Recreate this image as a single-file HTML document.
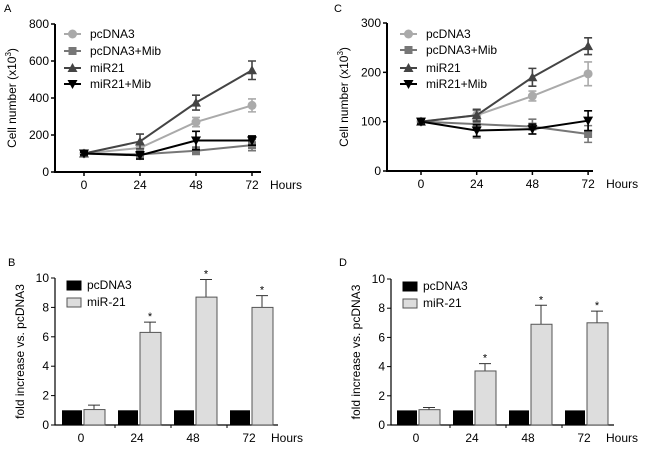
<!DOCTYPE html>
<html><head><meta charset="utf-8"><style>
body{margin:0;background:#fff}
svg{display:block;font-family:"Liberation Sans",Arial,sans-serif}
</style></head><body>
<svg id="fig" width="650" height="449" viewBox="0 0 650 449"></svg>
<script>
const hours=["0","24","48","72"];
const seriesNames=["pcDNA3","pcDNA3+Mib","miR21","miR21+Mib"];
const A_pc=[100,130,270,360], A_pcE=[8,20,25,35];
const A_pcm=[100,95,115,145], A_pcmE=[8,15,20,30];
const A_mi=[100,165,375,550], A_miE=[8,40,40,50];
const A_mim=[100,90,170,170], A_mimE=[8,20,50,25];
const A_ticks=[0,200,400,600,800];
const C_pc=[100,113,152,197], C_pcE=[5,10,10,24];
const C_pcm=[100,95,90,75], C_pcmE=[5,28,15,17];
const C_mi=[100,113,190,253], C_miE=[5,12,18,17];
const C_mim=[100,82,85,102], C_mimE=[5,12,10,20];
const C_ticks=[0,100,200,300];
const barCtrl=[1,1,1,1];
const B_mir=[1.05,6.3,8.7,8.0], B_err=[0.3,0.7,1.2,0.8];
const D_mir=[1.05,3.7,6.9,7.0], D_err=[0.15,0.5,1.3,0.8];
const barTicks=[0,2,4,6,8,10];
const barLegend=["pcDNA3","miR-21"];

const NS="http://www.w3.org/2000/svg";
const svg=document.getElementById('fig');
const FS=12;
function el(tag,attrs,parent,text){const e=document.createElementNS(NS,tag);for(const k in attrs)e.setAttribute(k,attrs[k]);if(text!==undefined)e.textContent=text;(parent||svg).appendChild(e);return e;}

function marker(g,shape,x,y,color){
  let m;
  if(shape==='circle')m=el('circle',{cx:x,cy:y,r:4.5,fill:color},g);
  else if(shape==='square')m=el('rect',{x:x-4,y:y-4,width:8,height:8,fill:color},g);
  else if(shape==='up')m=el('polygon',{points:`${x},${y-5} ${x+5},${y+4} ${x-5},${y+4}`,fill:color},g);
  else m=el('polygon',{points:`${x},${y+5} ${x+5},${y-4} ${x-5},${y-4}`,fill:color},g);
  return m;
}

function lineChart(o){
  const g=el('g',{});
  
  
  const t=el('text',{x:o.lx,y:o.ly,'font-size':11},g,o.letter);
  
  const ys=v=>o.y0-(v/o.ymax)*(o.y0-o.y1);
  const xs=i=>o.x0+i*o.dx;
  const ax=el('path',{d:`M${o.ax} ${o.y1}V${o.y0}H${o.ax+206}`,stroke:'#000','stroke-width':2,fill:'none'},g);
  
  o.ticks.forEach(v=>{
    el('line',{x1:o.ax-4,x2:o.ax,y1:ys(v),y2:ys(v),stroke:'#000','stroke-width':1.5},g);
    const tl=el('text',{x:o.ax-6,y:ys(v)+4,'font-size':FS,'text-anchor':'end'},g,v);
    
  });
  hours.forEach((h,i)=>{
    el('line',{x1:xs(i),x2:xs(i),y1:o.y0,y2:o.y0+4,stroke:'#000','stroke-width':1.5},g);
    const tl=el('text',{x:xs(i),y:o.y0+17,'font-size':FS,'text-anchor':'middle'},g,h);
    
  });
  const hl=el('text',{x:xs(3)+18,y:o.y0+17,'font-size':FS},g,'Hours');
  
  const yt=el('text',{transform:`translate(${o.ax-39},${(o.y0+o.y1)/2}) rotate(-90)`,'font-size':FS,'text-anchor':'middle'},g);
  
  el('tspan',{},yt,'Cell number (x10');el('tspan',{'font-size':8,dy:-5},yt,'3');el('tspan',{dy:5},yt,')');
  const styles=[['circle','#aaa'],['square','#777'],['up','#444'],['down','#000']];
  o.data.forEach((s,k)=>{
    const [shape,color]=styles[k];
    const sg=el('g',{},g);
    
    
    el('polyline',{points:s.v.map((v,i)=>xs(i)+','+ys(v)).join(' '),fill:'none',stroke:color,'stroke-width':2},sg);
    s.v.forEach((v,i)=>{
      const e=s.e[i];
      el('path',{d:`M${xs(i)} ${ys(v+e)}V${ys(v-e)}M${xs(i)-4} ${ys(v+e)}h8M${xs(i)-4} ${ys(v-e)}h8`,stroke:color,'stroke-width':1.6,fill:'none'},sg);
      const m=marker(sg,shape,xs(i),ys(v),color);
      
    });
    const lg=el('g',{},g);
    
    const ly=o.legY[k];
    el('line',{x1:o.legX,x2:o.legX+17,y1:ly,y2:ly,stroke:color,'stroke-width':2},lg);
    marker(lg,shape,o.legX+8.5,ly,color);
    el('text',{x:o.legX+26,y:ly+4,'font-size':FS},lg,seriesNames[k]);
  });
}

function barChart(o){
  const g=el('g',{});
  
  
  const t=el('text',{x:o.lx,y:o.ly,'font-size':11},g,o.letter);
  
  const ys=v=>o.y0-(v/10)*(o.y0-o.y1);
  const gx=i=>o.gx0+i*56;
  el('path',{d:`M${o.ax} ${o.y1}V${o.y0}H${o.ax+223}`,stroke:'#000','stroke-width':1.2,fill:'none'},g);
  barTicks.forEach(v=>{
    el('line',{x1:o.ax-4,x2:o.ax,y1:ys(v),y2:ys(v),stroke:'#000','stroke-width':1},g);
    const tl=el('text',{x:o.ax-6,y:ys(v)+4,'font-size':FS,'text-anchor':'end'},g,v);
    
  });
  const yt=el('text',{transform:`translate(${o.ax-31},${(o.y0+o.y1)/2}) rotate(-90)`,'font-size':FS,'text-anchor':'middle'},g,'fold increase vs. pcDNA3');
  
  hours.forEach((h,i)=>{
    const x=gx(i);
    const b1=el('rect',{x:x,y:ys(barCtrl[i]),width:20,height:ys(0)-ys(barCtrl[i]),fill:'#000'},g);
    
    const v=o.vals[i],e=o.errs[i];
    el('path',{d:`M${x+32} ${ys(v)}V${ys(v+e)}M${x+26} ${ys(v+e)}h12`,stroke:'#333','stroke-width':1,fill:'none'},g);
    const b2=el('rect',{x:x+22,y:ys(v),width:21,height:ys(0)-ys(v),fill:'#ddd',stroke:'#555','stroke-width':1},g);
    
    if(i>0){const s=el('text',{x:x+32,y:ys(v+e)-2,'font-size':11,'text-anchor':'middle'},g,'*');
      }
    if(i>0)el('line',{x1:x-3,x2:x-3,y1:o.y0,y2:o.y0+3,stroke:'#000'},g);
    const tl=el('text',{x:x+19,y:o.y0+17,'font-size':FS,'text-anchor':'middle'},g,h);
    
  });
  const hl=el('text',{x:gx(3)+41,y:o.y0+17,'font-size':FS},g,'Hours');
  
  barLegend.forEach((n,k)=>{
    const lg=el('g',{},g);
    
    const ly=o.y1+7+k*17;
    el('rect',{x:o.ax+12,y:ly-4,width:14,height:9,fill:k?'#ddd':'#000',stroke:k?'#555':'#000'},lg);
    el('text',{x:o.ax+32,y:ly+4,'font-size':FS},lg,n);
  });
}

lineChart({name:'panel-a-chart',letter:'A',lx:4,ly:12,ax:55,y0:172,y1:24,ymax:800,x0:84,dx:56,ticks:A_ticks,legX:64,legY:[34,51,68,84],
  data:[{v:A_pc,e:A_pcE},{v:A_pcm,e:A_pcmE},{v:A_mi,e:A_miE},{v:A_mim,e:A_mimE}]});
lineChart({name:'panel-c-chart',letter:'C',lx:334,ly:12,ax:387,y0:171,y1:23,ymax:300,x0:421,dx:55.7,ticks:C_ticks,legX:400,legY:[34,50,68,84],
  data:[{v:C_pc,e:C_pcE},{v:C_pcm,e:C_pcmE},{v:C_mi,e:C_miE},{v:C_mim,e:C_mimE}]});
barChart({name:'panel-b-chart',letter:'B',lx:8,ly:266,ax:55,y0:425,y1:278,gx0:62,vals:B_mir,errs:B_err});
barChart({name:'panel-d-chart',letter:'D',lx:339,ly:266,ax:391,y0:425,y1:279,gx0:397,vals:D_mir,errs:D_err});
</script>
</body></html>
